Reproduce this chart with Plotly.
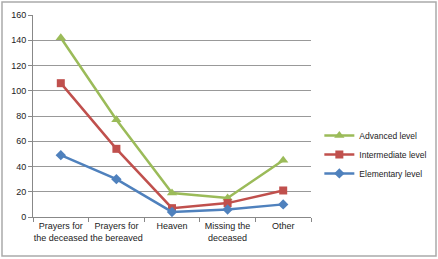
import plotly.graph_objects as go

categories = ["Prayers for<br>the deceased", "Prayers for<br>the bereaved", "Heaven", "Missing the<br>deceased", "Other"]
advanced = [142, 77, 19, 15, 45]
intermediate = [106, 54, 7, 11, 21]
elementary = [49, 30, 4, 6, 10]

fig = go.Figure()
fig.add_trace(go.Scatter(x=categories, y=advanced, name="Advanced level", mode="lines+markers",
                         line=dict(color="#9BBB59", width=2.5),
                         marker=dict(symbol="triangle-up", size=9, color="#9BBB59")))
fig.add_trace(go.Scatter(x=categories, y=intermediate, name="Intermediate level", mode="lines+markers",
                         line=dict(color="#C0504D", width=2.5),
                         marker=dict(symbol="square", size=8, color="#C0504D")))
fig.add_trace(go.Scatter(x=categories, y=elementary, name="Elementary level", mode="lines+markers",
                         line=dict(color="#4F81BD", width=2.5),
                         marker=dict(symbol="diamond", size=8, color="#4F81BD")))

fig.update_layout(
    width=438, height=259,
    margin=dict(l=33, r=127, t=15, b=42, autoexpand=False),
    paper_bgcolor="white", plot_bgcolor="white",
    font=dict(family="Liberation Sans, Arial, sans-serif", size=9, color="#222"),
    showlegend=True,
    legend=dict(x=1.03, y=0.31, xanchor="left", yanchor="middle", traceorder="normal",
                font=dict(size=8.5), itemwidth=30, tracegroupgap=0, bgcolor="rgba(0,0,0,0)"),
    xaxis=dict(type="category", showline=True, linecolor="#888", linewidth=1,
               ticks="outside", tickson="boundaries", ticklen=4, tickcolor="#888",
               showgrid=False, range=[-0.5, 4.5], tickfont=dict(size=9),
               tickangle=0, automargin=False),
    yaxis=dict(range=[0, 160], dtick=20, showline=True, linecolor="#888", linewidth=1,
               ticks="outside", ticklen=4, tickcolor="#888",
               showgrid=True, gridcolor="#999", gridwidth=1, zeroline=False,
               tickfont=dict(size=9), automargin=False),
    shapes=[dict(type="rect", xref="paper", yref="paper",
                 x0=-31/278, x1=(436-33)/278, y0=(217-256)/202, y1=(217-2)/202,
                 line=dict(color="#aaa", width=1.5), fillcolor="rgba(0,0,0,0)", layer="above")],
)

fig.write_html("out.html", config={"displayModeBar": False},
               post_script="document.body.style.margin='0';document.body.style.overflow='hidden';")
